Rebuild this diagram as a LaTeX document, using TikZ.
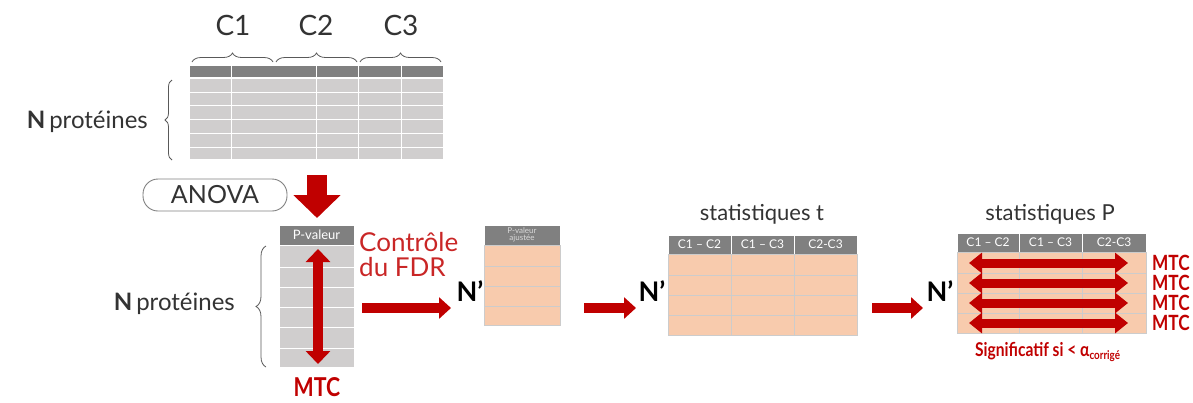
\documentclass[tikz,border=0pt]{standalone}
\usepackage{fontspec}
\setmainfont{Lato}
\newfontfamily\condfont[FakeStretch=0.82]{Lato}
\usetikzlibrary{arrows.meta,decorations.pathreplacing}
\definecolor{hdrgray}{HTML}{808080}
\definecolor{cellgray}{HTML}{D0CECE}
\definecolor{peach}{HTML}{F8CBAD}
\definecolor{dred}{HTML}{C00000}
\definecolor{txtgray}{HTML}{333333}
\definecolor{bracegray}{HTML}{595959}
\newcommand{\fs}[1]{\fontsize{#1}{#1}\selectfont}
\begin{document}
\begin{tikzpicture}[x=1pt,y=-1pt,
  hdr/.style={fill=hdrgray,draw=white,line width=0.8pt},
  gcell/.style={fill=cellgray,draw=white,line width=1pt},
  pcell/.style={fill=peach,draw=black!20,line width=0.8pt},
  lbl/.style={inner sep=0pt,text=txtgray},
  hdrtxt/.style={inner sep=0pt,text=white},
  bracestyle/.style={draw=bracegray,line width=0.8pt,decorate},
  fatarrow/.style={draw=dred,line width=10pt,-{Triangle[width=21pt,length=12pt]}},
  dblarrow/.style={draw=dred,line width=10pt,{Triangle[width=24pt,length=13pt]}-{Triangle[width=24pt,length=13pt]}},
  mtc/.style={inner sep=0pt,text=dred,font=\condfont\bfseries\fs{21}}
]
\useasboundingbox (0,0) rectangle (1193,402);

% ---------- top table ----------
\foreach \xa/\xb in {189/231,231/316,316/358,358/401,401/443} {
  \draw[hdr] (\xa,65) rectangle (\xb,77.5);
  \foreach \ya/\yb in {78/92,92/105,105/119,119/133,133/147,147/159}
    \draw[gcell] (\xa,\ya) rectangle (\xb,\yb);
}
\node[lbl,font=\fs{28}] (c1) at (233,25) {C1};
\node[lbl,font=\fs{28}] (c2) at (316,25) {C2};
\node[lbl,font=\fs{28}] (c3) at (401,25) {C3};
\draw[bracestyle,decoration={brace,amplitude=9pt}] (192,62) -- (273,62);
\draw[bracestyle,decoration={brace,amplitude=9pt}] (276,62) -- (357,62);
\draw[bracestyle,decoration={brace,amplitude=9pt}] (360,62) -- (441,62);
\draw[bracestyle,decoration={brace,amplitude=7pt}] (172,160) -- (172,80);
\node[lbl,anchor=east,font=\fs{24}] (np1) at (148,122) {\textbf{N}\,protéines};

% ---------- ANOVA ----------
\node[draw=hdrgray,line width=0.9pt,rounded corners=15pt,minimum width=144pt,minimum height=32pt,
      inner sep=0pt,text=txtgray,font=\fs{25}] (anova) at (215,195) {ANOVA};
\coordinate (dtop) at (317,175);
\coordinate (dbot) at (317,218);
\draw[draw=dred,line width=20pt,-{Triangle[width=46pt,length=23pt]}] (dtop) -- (dbot);

% ---------- P-valeur column ----------
\draw[hdr] (279,225) rectangle (354,245);
\node[hdrtxt,font=\fs{13}] (pv) at (316.5,235) {P-valeur};
\foreach \ya/\yb in {245/267,267/287,287/307,307/327,327/348,348/367}
  \draw[gcell,draw=white] (279,\ya) rectangle (354,\yb);
\draw[bracestyle,decoration={brace,amplitude=10pt}] (266,367) -- (266,246);
\node[lbl,anchor=east,font=\fs{24}] (np2) at (235,304) {\textbf{N}\,protéines};
\coordinate (va) at (318,249);
\coordinate (vb) at (318,364);
\draw[dblarrow] (va) -- (vb);
\node[mtc,font=\condfont\bfseries\fs{26},anchor=base] (mtc0) at (317,396) {MTC};

% ---------- FDR ----------
\node[inner sep=0pt,text=dred!85!white,font=\fs{26},align=left,anchor=north west] (fdr) at (359,232)
  {Contrôle\\[-1pt]du FDR};
\coordinate (a1s) at (362,308);
\coordinate (a1e) at (451,308);
\draw[fatarrow] (a1s) -- (a1e);
\node[inner sep=0pt,font=\bfseries\fs{27}] (n1) at (470,291) {N’};

% ---------- P-valeur ajustee ----------
\draw[hdr] (484,225) rectangle (560,245);
\node[hdrtxt,text=white!85!black,font=\fs{8},align=center] (pva) at (522,235) {P-valeur\\[-1pt]ajustée};
\foreach \ya/\yb in {245/266,266/286,286/306,306/325}
  \draw[pcell] (484,\ya) rectangle (560,\yb);

\coordinate (a2s) at (584,308);
\coordinate (a2e) at (636,308);
\draw[fatarrow] (a2s) -- (a2e);
\node[inner sep=0pt,font=\bfseries\fs{27}] (n2) at (652,291) {N’};

% ---------- statistiques t ----------
\node[lbl,font=\fs{22}] (st) at (762,214) {statistiques t};
\foreach \xa/\xb/\lab in {668/731/{C1 – C2},731/794/{C1 – C3},794/857/{C2-C3}} {
  \draw[hdr] (\xa,235) rectangle (\xb,254);
  \node[hdrtxt,font=\fs{12}] at ({(\xa+\xb)/2},244.5) {\lab};
  \foreach \ya/\yb in {254/275,275/295,295/315,315/335}
    \draw[pcell] (\xa,\ya) rectangle (\xb,\yb);
}

\coordinate (a3s) at (872,308);
\coordinate (a3e) at (923,308);
\draw[fatarrow] (a3s) -- (a3e);
\node[inner sep=0pt,font=\bfseries\fs{27}] (n3) at (940,291) {N’};

% ---------- statistiques P ----------
\node[lbl,font=\fs{22}] (sp) at (1050,214) {statistiques P};
\foreach \xa/\xb/\lab in {957/1019/{C1 – C2},1019/1082/{C1 – C3},1082/1146/{C2-C3}} {
  \draw[hdr] (\xa,233) rectangle (\xb,252);
  \node[hdrtxt,font=\fs{12}] at ({(\xa+\xb)/2},242.5) {\lab};
  \foreach \ya/\yb in {252/273,273/293,293/313,313/333}
    \draw[pcell] (\xa,\ya) rectangle (\xb,\yb);
}
\foreach \yy/\nm in {263/r1,283/r2,303/r3,323/r4} {
  \coordinate (\nm a) at (969,\yy);
  \coordinate (\nm b) at (1128,\yy);
  \draw[draw=dred,line width=9pt,{Triangle[width=20pt,length=13pt]}-{Triangle[width=20pt,length=13pt]}] (\nm a) -- (\nm b);
  \node[mtc,anchor=west] (\nm m) at (1152,\yy) {MTC};
}
\node[inner sep=0pt,text=dred,font=\condfont\bfseries\fs{19},anchor=west] (sig) at (975,352)
  {Significatif si < α\textsubscript{\fs{12}corrigé}};
\end{tikzpicture}
\end{document}
